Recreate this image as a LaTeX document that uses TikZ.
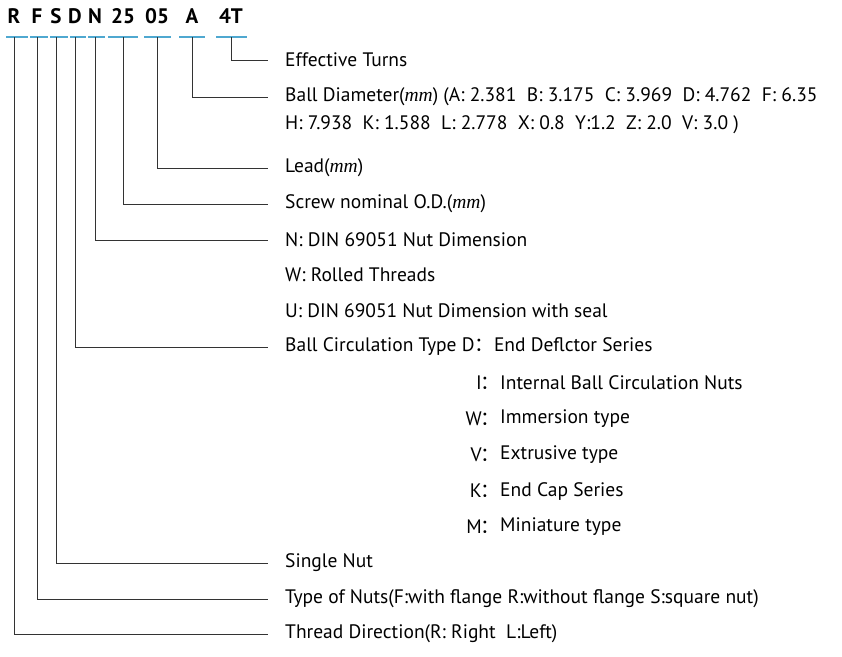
\documentclass[tikz,border=0pt]{standalone}
\usepackage{fontspec}
\setmainfont{PT Sans}
\newfontfamily\serifit{Liberation Serif}
\newfontfamily\cjk{Noto Sans CJK SC}
\definecolor{ul}{HTML}{4FA8D0}
\definecolor{ln}{HTML}{333333}
\newcommand{\mmu}{{\serifit\itshape mm}}
\newcommand{\cc}{{\cjk ：}}
\begin{document}
\begin{tikzpicture}[x=1pt,y=-1pt,
 lbl/.style={anchor=west,inner sep=0,font=\fontsize{19.5}{22}\selectfont},
 code/.style={inner sep=0,font=\fontsize{21}{24}\selectfont\bfseries},
 lead/.style={draw=ln,line width=0.9pt},
 uline/.style={draw=ul,line width=1.2pt}]
\useasboundingbox (0,0) rectangle (842,656);
% codes
\foreach \t/\x/\a/\b/\n in {R/14/6/28/r, F/37/30/48/f, S/56/50/68/s, D/75/70/86/d, N/95/88/105/n, 25/123/108/138/tf, 05/157/144/171/of, A/192/179/205/a, 4T/231/216/247/ft}{
  \node[code] (c\n) at (\x,16) {\t};
  \coordinate (u\n) at (\x,37);
  \draw[uline] (\a,37) -- (\b,37);
}
% labels
\node[lbl] (lft) at (285,60) {Effective Turns};
\node[lbl] (la) at (285,97) {Ball Diameter(\mmu) (A: 2.381\ \ B: 3.175\ \ C: 3.969\ \ D: 4.762\ \ F: 6.35};
\node[lbl] (la2) at (285,125) {H: 7.938\ \ K: 1.588\ \ L: 2.778\ \ X: 0.8\ \ Y:1.2\ \ Z: 2.0\ \ V: 3.0 )};
\node[lbl] (lof) at (285,168) {Lead(\mmu)};
\node[lbl] (ltf) at (285,204) {Screw nominal O.D.(\mmu)};
\node[lbl] (ln) at (285,240) {N: DIN 69051 Nut Dimension};
\node[lbl] (lw) at (285,275) {W: Rolled Threads};
\node[lbl] (lu) at (285,311) {U: DIN 69051 Nut Dimension with seal};
\node[lbl] (ld) at (285,347) {Ball Circulation Type D\cc End Deflctor Series};
\foreach \k/\t/\y [count=\i] in {I/Internal Ball Circulation Nuts/383, W/Immersion type/419, V/Extrusive type/455, K/End Cap Series/491, M/Miniature type/527}{
  \node[lbl,anchor=east] (k\i) at (482,\y) {\k};
  \node[lbl] (kc\i) at (480,\y) {\cc};
  \node[lbl] (kt\i) at (500,\y) {\t};
}
\node[lbl] (ls) at (285,563) {Single Nut};
\node[lbl] (lf) at (285,599) {Type of Nuts(F:with flange R:without flange S:square nut)};
\node[lbl] (lr) at (285,634) {Thread Direction(R: Right\ \ L:Left)};
% leaders
\foreach \n/\l in {ft/lft, a/la, of/lof, tf/ltf, n/ln, d/ld, s/ls, f/lf, r/lr}{
  \draw[lead] (u\n) |- ([xshift=-17pt]\l.west);
}
\end{tikzpicture}
\end{document}
